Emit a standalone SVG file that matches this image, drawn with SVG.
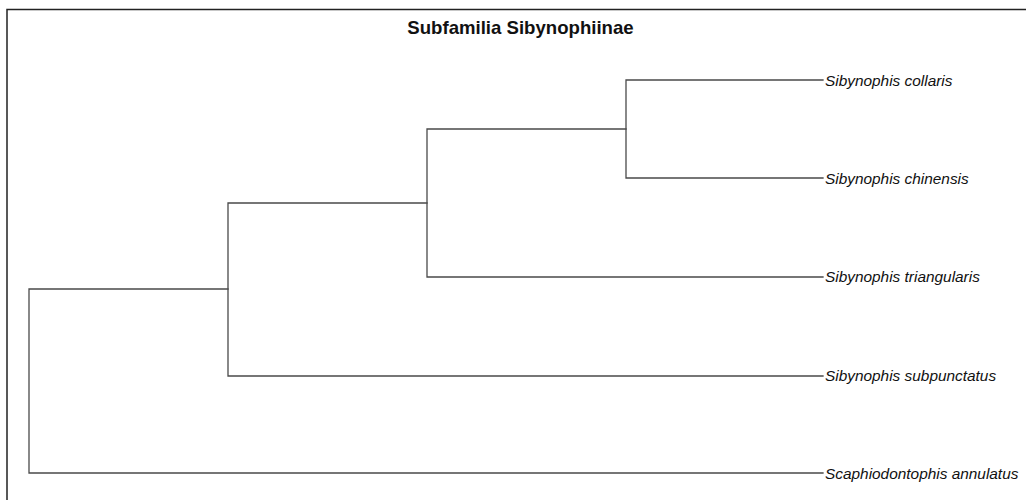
<svg xmlns="http://www.w3.org/2000/svg" width="1026" height="500" viewBox="0 0 1026 500">
  <style>
    .frame { fill: none; stroke: #222; stroke-width: 1.5; }
    .branch { fill: none; stroke: #4a4a4a; stroke-width: 1.3; stroke-linecap: square; }
    .tip { font-family: "Liberation Sans", Arial, sans-serif; font-style: italic; font-size: 15.4px; fill: #111; }
    .title { font-family: "Liberation Sans", Arial, sans-serif; font-weight: bold; font-size: 18.6px; fill: #111; text-anchor: middle; }
  </style>
  <rect width="1026" height="500" fill="#ffffff"/>
  <rect class="frame" x="7" y="9.5" width="1040" height="520"/>
  <text class="title" x="520.5" y="34">Subfamilia Sibynophiinae</text>

  <g id="connectors">
    <!-- root -->
    <path class="branch" d="M29,289 V473 H823 M29,289 H228"/>
    <!-- (((collaris, chinensis), triangularis), subpunctatus) -->
    <path class="branch" d="M228,203 V376 H823 M228,203 H427"/>
    <!-- ((collaris, chinensis), triangularis) -->
    <path class="branch" d="M427,129 V277 H823 M427,129 H626"/>
    <!-- (collaris, chinensis) -->
    <path class="branch" d="M626,80 V178 H823 M626,80 H823"/>
  </g>

  <g id="tip-collaris"><text class="tip" x="825" y="85.5">Sibynophis collaris</text></g>
  <g id="tip-chinensis"><text class="tip" x="825" y="183.5">Sibynophis chinensis</text></g>
  <g id="tip-triangularis"><text class="tip" x="825" y="282">Sibynophis triangularis</text></g>
  <g id="tip-subpunctatus"><text class="tip" x="825" y="381">Sibynophis subpunctatus</text></g>
  <g id="tip-annulatus"><text class="tip" x="825" y="478.5">Scaphiodontophis annulatus</text></g>
</svg>
